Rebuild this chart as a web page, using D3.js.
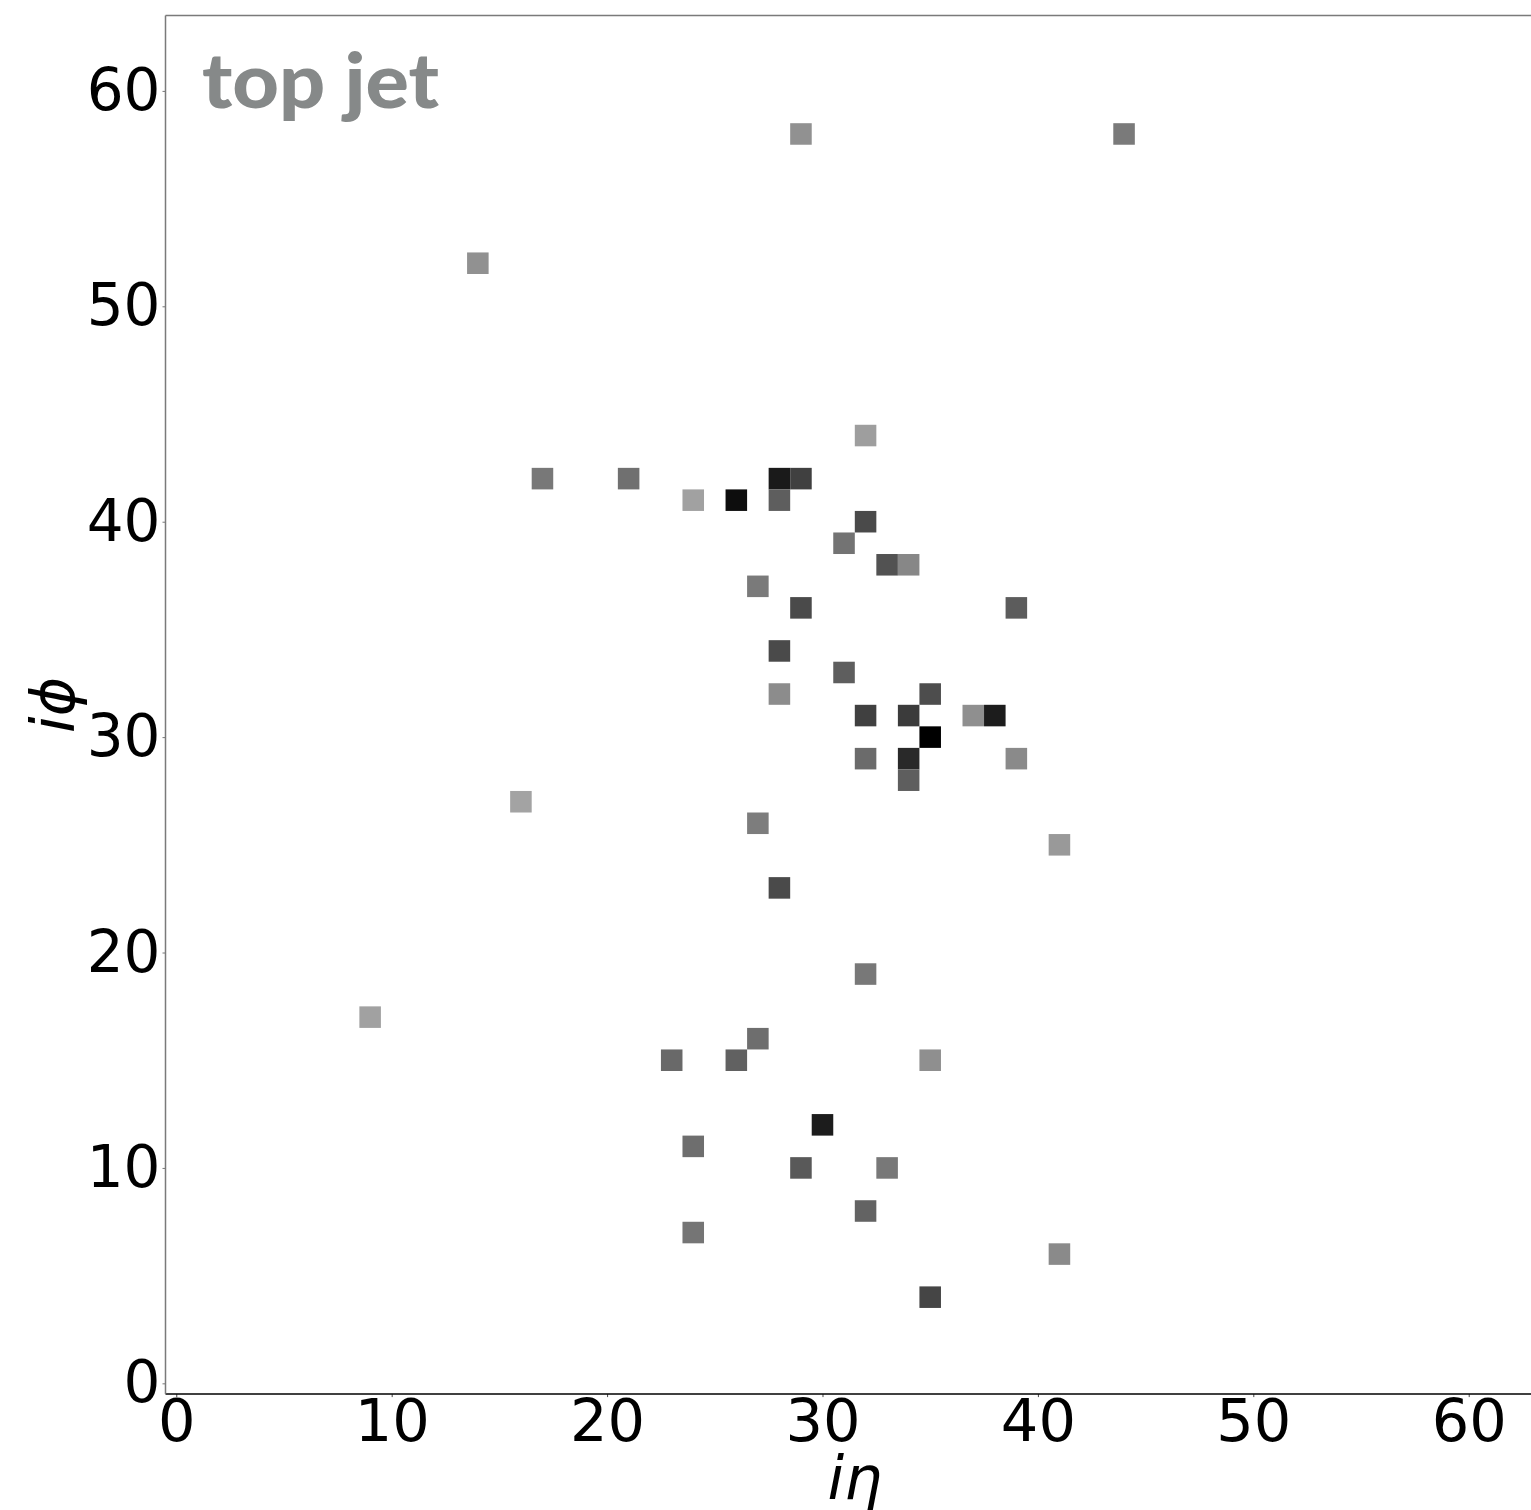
<!DOCTYPE html>
<html>
<head>
<meta charset="utf-8">
<script src="https://cdn.jsdelivr.net/npm/d3@7"></script>
<style>
  html, body { margin: 0; padding: 0; background: #fff; }
  svg { display: block; overflow: hidden; }
</style>
</head>
<body>
<script>
// Calorimeter image of a top jet: 64 x 64 grid of (iη, iφ) cells.
// Only the non-empty cells are listed; intensity 0 = white, 1 = black.
const etaIdx = [29, 44, 14, 32, 17, 21, 28, 29, 24, 26, 28, 32, 31, 33, 34, 27, 29, 39, 28, 31,
                28, 35, 32, 34, 37, 38, 35, 32, 34, 39, 34, 16, 27, 41, 28, 32, 9, 27, 23, 26,
                35, 30, 24, 29, 33, 32, 24, 41, 35];
const phiIdx = [58, 58, 52, 44, 42, 42, 42, 42, 41, 41, 41, 40, 39, 38, 38, 37, 36, 36, 34, 33,
                32, 32, 31, 31, 31, 31, 30, 29, 29, 29, 28, 27, 26, 25, 23, 19, 17, 16, 15, 15,
                15, 12, 11, 10, 10, 8, 7, 6, 4];
const intensity = [0.43, 0.52, 0.43, 0.38, 0.53, 0.56, 0.90, 0.75, 0.37, 0.95, 0.63, 0.71, 0.55, 0.68, 0.47, 0.52, 0.71, 0.64, 0.71, 0.63,
                   0.45, 0.70, 0.75, 0.77, 0.44, 0.89, 1.00, 0.58, 0.84, 0.46, 0.63, 0.36, 0.51, 0.40, 0.71, 0.53, 0.37, 0.57, 0.59, 0.62,
                   0.44, 0.89, 0.57, 0.65, 0.53, 0.61, 0.54, 0.46, 0.73];
const tickValues = [0, 10, 20, 30, 40, 50, 60];
const gridSize = 64;
const title = "top jet";

const W = 1531, H = 1510;
const plotLeft = 165.5, plotTop = 15.5, side = 1378.6;
const plotBottom = plotTop + side, plotRight = plotLeft + side;

const svg = d3.select("body").append("svg")
  .attr("width", W).attr("height", H);

const x = d3.scaleLinear().domain([-0.5, gridSize - 0.5]).range([plotLeft, plotRight]);
const y = d3.scaleLinear().domain([-0.5, gridSize - 0.5]).range([plotBottom, plotTop]);
const shade = d3.scaleLinear().domain([0, 1]).range(["#ffffff", "#000000"]);

const cells = etaIdx.map((e, i) => ({ eta: e, phi: phiIdx[i], v: intensity[i] }));

// pixels
svg.append("g")
  .selectAll("rect")
  .data(cells)
  .join("rect")
  .attr("x", d => x(d.eta - 0.5))
  .attr("y", d => y(d.phi + 0.5))
  .attr("width", d => x(d.eta + 0.5) - x(d.eta - 0.5))
  .attr("height", d => y(d.phi - 0.5) - y(d.phi + 0.5))
  .attr("fill", d => shade(d.v));

// axes
const font = "'DejaVu Sans', sans-serif";
const xAxis = svg.append("g")
  .attr("transform", `translate(0,${plotBottom})`)
  .call(d3.axisBottom(x).tickValues(tickValues).tickSize(3).tickPadding(2).tickSizeOuter(0));
const yAxis = svg.append("g")
  .attr("transform", `translate(${plotLeft},0)`)
  .call(d3.axisLeft(y).tickValues(tickValues).tickSize(3).tickPadding(2).tickSizeOuter(0));

xAxis.selectAll("text").attr("font-family", font).attr("font-size", 59).attr("fill", "#000");
yAxis.selectAll("text").attr("font-family", font).attr("font-size", 58).attr("fill", "#000");
[xAxis, yAxis].forEach(g => g.select(".domain").remove());
xAxis.selectAll(".tick line").attr("stroke", "#444");
yAxis.selectAll(".tick line").attr("stroke", "#777");

// frame
svg.append("line").attr("x1", plotLeft).attr("x2", plotRight).attr("y1", plotBottom).attr("y2", plotBottom)
  .attr("stroke", "#000").attr("stroke-width", 1.5);
svg.append("line").attr("x1", plotLeft).attr("x2", plotLeft).attr("y1", plotTop).attr("y2", plotBottom)
  .attr("stroke", "#7a7a7a").attr("stroke-width", 1.5);
svg.append("line").attr("x1", plotLeft).attr("x2", plotRight).attr("y1", plotTop).attr("y2", plotTop)
  .attr("stroke", "#7a7a7a").attr("stroke-width", 1.5);
svg.append("line").attr("x1", plotRight).attr("x2", plotRight).attr("y1", plotTop).attr("y2", plotBottom)
  .attr("stroke", "#7a7a7a").attr("stroke-width", 1.5);

// axis titles
svg.append("text")
  .attr("x", (plotLeft + plotRight) / 2).attr("y", 1499)
  .attr("text-anchor", "middle")
  .attr("font-family", font).attr("font-style", "italic").attr("font-size", 60)
  .text("iη");
svg.append("text")
  .attr("transform", `translate(74,${(plotTop + plotBottom) / 2}) rotate(-90)`)
  .attr("text-anchor", "middle")
  .attr("font-family", font).attr("font-style", "italic").attr("font-size", 60)
  .text("iϕ");

// label
svg.append("text")
  .attr("x", 202).attr("y", 108)
  .attr("font-family", "Lato, 'Open Sans', sans-serif").attr("font-weight", 900)
  .attr("font-size", 77)
  .attr("fill", "#868989")
  .attr("textLength", 237).attr("lengthAdjust", "spacingAndGlyphs")
  .text(title);
</script>
</body>
</html>
